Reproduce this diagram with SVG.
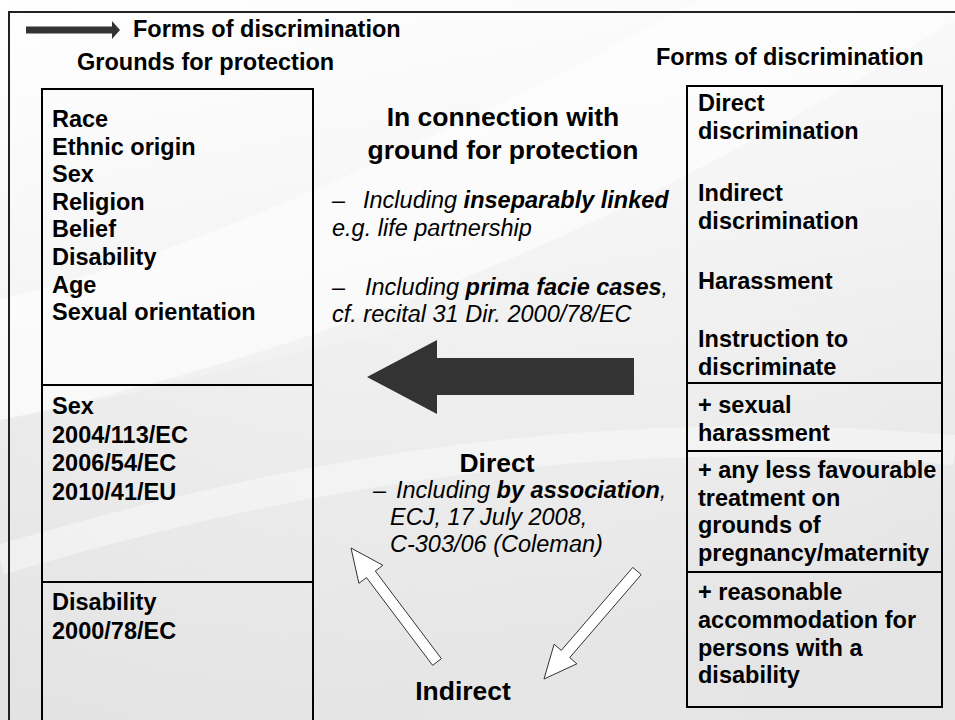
<svg xmlns="http://www.w3.org/2000/svg" width="955" height="720" viewBox="0 0 955 720">
<defs>
<linearGradient id="bg" x1="0" y1="0" x2="0.25" y2="1">
<stop offset="0" stop-color="#ffffff"/>
<stop offset="0.45" stop-color="#f4f4f4"/>
<stop offset="1" stop-color="#e4e4e4"/>
</linearGradient>
<linearGradient id="sw" x1="0" y1="0" x2="1" y2="0">
<stop offset="0" stop-color="#dcdcdc" stop-opacity="0.9"/>
<stop offset="1" stop-color="#ffffff" stop-opacity="0"/>
</linearGradient>
</defs>
<style>
text { font-family: "Liberation Sans", Arial, sans-serif; fill: #000; }
.b { font-weight: bold; font-size: 23.5px; }
.h { font-weight: bold; font-size: 26.5px; }
.i { font-style: italic; font-size: 23.5px; }
.bi { font-weight: bold; }
.box { fill: none; stroke: #000; stroke-width: 2; }
.frame { fill: none; stroke: #222; stroke-width: 2; }
.dark { fill: #333; }
.hollow { fill: #fff; stroke: #333; stroke-width: 1; }
</style>
<g id="background">
<rect x="0" y="0" width="955" height="720" fill="url(#bg)"/>
<path d="M0,300 C200,250 420,150 700,0 L955,0 L955,20 C700,180 420,330 0,420 Z" fill="#ffffff" opacity="0.55"/>
<path d="M0,420 C250,380 520,250 955,330 L955,720 L0,720 Z" fill="url(#sw)" opacity="0.35"/>
<path d="M0,560 C300,470 600,420 955,450" fill="none" stroke="#ffffff" stroke-width="30" opacity="0.4"/>
</g>
<rect class="frame" x="9" y="12" width="960" height="720"/>
<g id="header">
<rect class="dark" x="26" y="26.5" width="87" height="7"/>
<polygon class="dark" points="112,21 120,30 112,39"/>
<text class="b" x="133" y="37">Forms of discrimination</text>
<text class="b" x="77" y="70">Grounds for protection</text>
<text class="b" x="656" y="65">Forms of discrimination</text>
</g>
<g id="grounds-box">
<rect class="box" x="42" y="89" width="271" height="296"/>
<text class="b" x="52" y="127">Race<tspan x="52" dy="27.6">Ethnic origin</tspan><tspan x="52" dy="27.6">Sex</tspan><tspan x="52" dy="27.6">Religion</tspan><tspan x="52" dy="27.6">Belief</tspan><tspan x="52" dy="27.6">Disability</tspan><tspan x="52" dy="27.6">Age</tspan><tspan x="52" dy="27.6">Sexual orientation</tspan></text>
</g>
<g id="sex-box">
<rect class="box" x="42" y="385" width="271" height="197"/>
<text class="b" x="52" y="414">Sex<tspan x="52" dy="28.5">2004/113/EC</tspan><tspan x="52" dy="28.5">2006/54/EC</tspan><tspan x="52" dy="28.5">2010/41/EU</tspan></text>
</g>
<g id="disability-box">
<rect class="box" x="42" y="582" width="271" height="160"/>
<text class="b" x="52" y="610">Disability<tspan x="52" dy="28.5">2000/78/EC</tspan></text>
</g>
<g id="forms-box">
<rect class="box" x="687" y="86" width="255" height="297"/>
<text class="b" x="698" y="111">Direct<tspan x="698" dy="28">discrimination</tspan><tspan x="698" dy="62">Indirect</tspan><tspan x="698" dy="28">discrimination</tspan><tspan x="698" dy="60">Harassment</tspan><tspan x="698" dy="58">Instruction to</tspan><tspan x="698" dy="27.5">discriminate</tspan></text>
</g>
<g id="sexual-harassment-box">
<rect class="box" x="687" y="383" width="255" height="68"/>
<text class="b" x="698" y="413">+ sexual<tspan x="698" dy="27.5">harassment</tspan></text>
</g>
<g id="pregnancy-box">
<rect class="box" x="687" y="451" width="255" height="121"/>
<text class="b" x="698" y="478">+ any less favourable<tspan x="698" dy="27.5">treatment on</tspan><tspan x="698" dy="27.5">grounds of</tspan><tspan x="698" dy="27.5">pregnancy/maternity</tspan></text>
</g>
<g id="accommodation-box">
<rect class="box" x="687" y="572" width="255" height="135"/>
<text class="b" x="698" y="600">+ reasonable<tspan x="698" dy="27.8">accommodation for</tspan><tspan x="698" dy="27.8">persons with a</tspan><tspan x="698" dy="27.8">disability</tspan></text>
</g>
<g id="connection-text">
<text class="h" x="503" y="126" text-anchor="middle">In connection with<tspan x="503" dy="33">ground for protection</tspan></text>
<text class="i" x="332" y="208">–</text>
<text class="i" x="363" y="208">Including <tspan class="bi">inseparably linked</tspan></text>
<text class="i" x="332" y="236">e.g. life partnership</text>
<text class="i" x="332" y="295">–</text>
<text class="i" x="365" y="295">Including <tspan class="bi">prima facie cases</tspan>,</text>
<text class="i" x="332" y="322">cf. recital 31 Dir. 2000/78/EC</text>
</g>
<g id="direct-text">
<text class="h" x="497" y="472" text-anchor="middle">Direct</text>
<text class="i" x="373" y="498">–</text>
<text class="i" x="396" y="498">Including <tspan class="bi">by association</tspan>,</text>
<text class="i" x="390" y="525">ECJ, 17 July 2008,</text>
<text class="i" x="390" y="552">C-303/06 (Coleman)</text>
</g>
<g id="indirect-text">
<text class="h" x="463" y="700" text-anchor="middle">Indirect</text>
</g>
<g id="connectors">
<polygon class="dark" points="367,377 437,340 437,358 634,358 634,395 437,395 437,414"/>
<polygon class="hollow" points="351,548 382.9,565.3 375.3,571 441.4,658.7 432.6,665.3 366.5,577.6 358.9,583.3"/>
<polygon class="hollow" points="544,679 554.1,644.2 561.3,650.4 632.8,567.4 641.2,574.6 569.7,657.6 576.9,663.8"/>
</g>
</svg>
